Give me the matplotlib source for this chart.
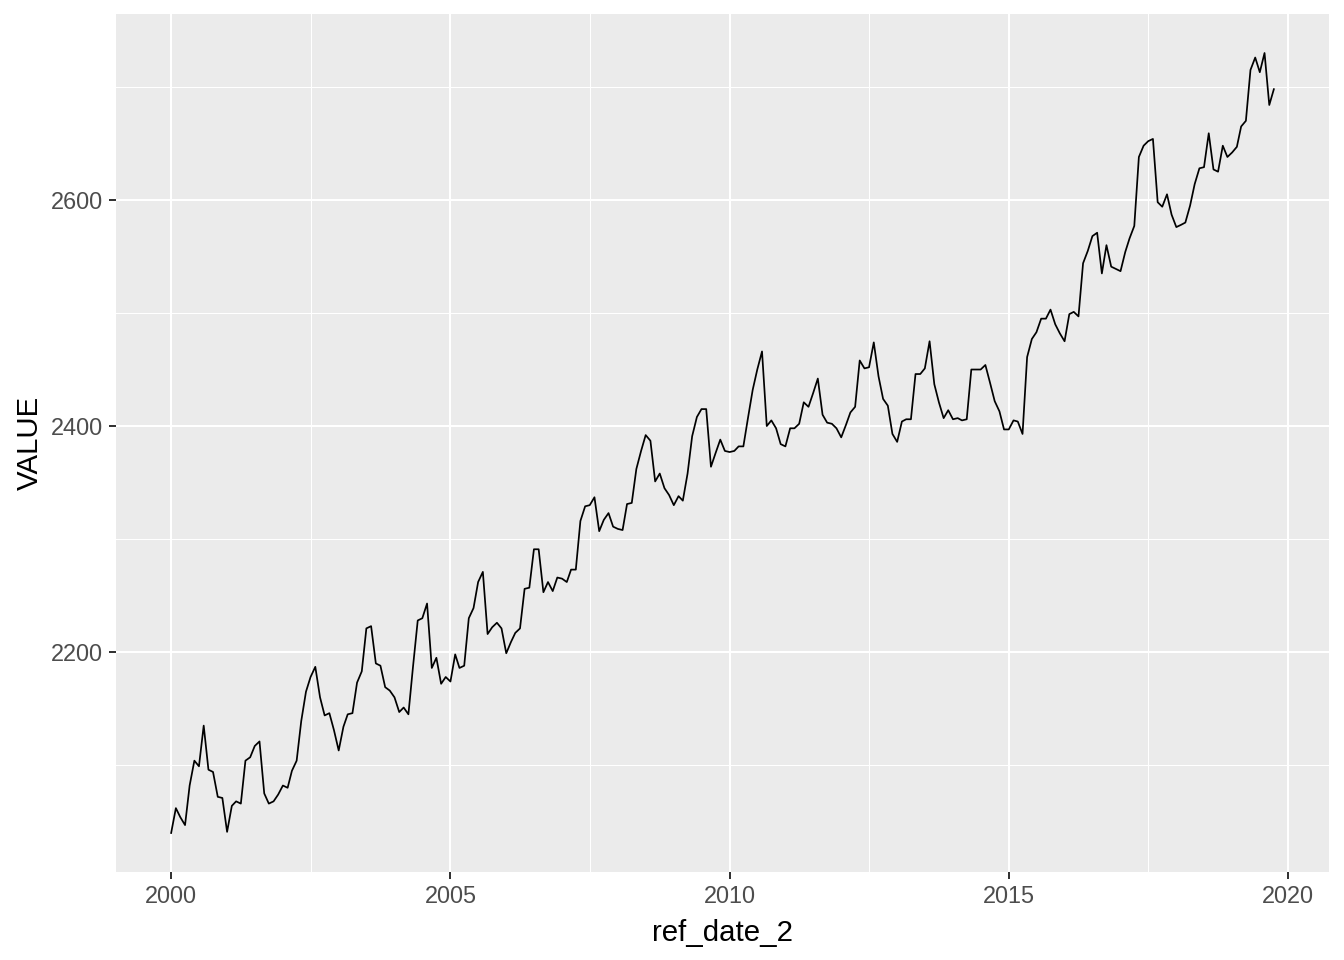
import numpy as np
import pandas as pd
import matplotlib
matplotlib.use("Agg")
import matplotlib.pyplot as plt
import matplotlib.dates as mdates
from matplotlib.ticker import FixedLocator

start_date = "2000-01-01"
values = [
    2040, 2062, 2054, 2047, 2082, 2104, 2099, 2135, 2096, 2094,
    2072, 2071, 2041, 2064, 2068, 2066, 2104, 2107, 2117, 2121,
    2075, 2066, 2068, 2074, 2082, 2080, 2095, 2104, 2139, 2165,
    2178, 2187, 2160, 2144, 2146, 2131, 2113, 2134, 2145, 2146,
    2173, 2183, 2221, 2223, 2190, 2188, 2169, 2166, 2160, 2147,
    2151, 2145, 2187, 2228, 2230, 2243, 2186, 2195,
    2172, 2178, 2174, 2198, 2186, 2188, 2230, 2239, 2262, 2271,
    2216, 2222, 2226, 2221, 2199, 2209, 2217, 2221, 2256, 2257,
    2291, 2291, 2253, 2262, 2254, 2266, 2265,
    2262, 2273, 2273, 2316, 2329, 2330, 2337, 2307, 2317, 2323,
    2311, 2309, 2308, 2331, 2332, 2362, 2378, 2392, 2387, 2351,
    2358, 2345, 2339, 2330, 2338, 2334, 2358, 2391,
    2408, 2415, 2415, 2364, 2376, 2388, 2378, 2377, 2378, 2382,
    2382, 2407, 2432, 2450, 2466, 2400, 2405, 2398, 2384, 2382,
    2398, 2398, 2402, 2421, 2417, 2429, 2442, 2410,
    2403, 2402, 2398, 2390, 2401, 2412, 2417, 2458, 2451, 2452,
    2474, 2444, 2424, 2418, 2393, 2386, 2404, 2406, 2406, 2446,
    2446, 2451, 2475, 2437, 2421, 2407, 2414, 2406,
    2407, 2405, 2406, 2450, 2450, 2450, 2454, 2438, 2422, 2413,
    2397, 2397, 2405, 2404, 2393, 2461, 2477, 2483, 2495, 2495,
    2503, 2490, 2482, 2475, 2499, 2501, 2497, 2544,
    2555, 2568, 2571, 2535, 2560, 2541, 2539, 2537, 2554, 2566,
    2577, 2638, 2648, 2652, 2654, 2598, 2594, 2605, 2587, 2576,
    2578, 2580, 2595, 2614, 2628, 2629, 2659, 2627,
    2625, 2648, 2638, 2642, 2647, 2665, 2670, 2715, 2726, 2713,
    2730, 2684, 2698,
]
dates = pd.date_range(start_date, periods=len(values), freq="MS")
y_major = [2200, 2400, 2600]
y_minor = [2100, 2300, 2500, 2700]
x_label = "ref_date_2"
y_label = "VALUE"

plt.rcParams["font.family"] = ["Liberation Sans", "DejaVu Sans"]

fig = plt.figure(figsize=(7, 5), dpi=192)
ax = fig.add_axes([116/1344, 1-872/960, (1329-116)/1344, (872-14)/960])
ax.set_facecolor("#EBEBEB")

xnum = mdates.date2num(dates)
ax.plot(xnum, values, color="black", lw=0.65, zorder=3)

# limits with 5% expansion
xr = xnum.max() - xnum.min()
ax.set_xlim(xnum.min() - 0.05*xr, xnum.max() + 0.05*xr)
v = np.array(values)
yr = v.max() - v.min()
ax.set_ylim(v.min() - 0.05*yr, v.max() + 0.05*yr)

major_years = [2000, 2005, 2010, 2015, 2020]
xmaj = mdates.date2num(pd.to_datetime([f"{y}-01-01" for y in major_years]))
xmin_pos = (xmaj[:-1] + xmaj[1:]) / 2
ax.xaxis.set_major_locator(FixedLocator(xmaj))
ax.set_xticklabels([str(y) for y in major_years])
ax.xaxis.set_minor_locator(FixedLocator(xmin_pos))
ax.yaxis.set_major_locator(FixedLocator(y_major))
ax.yaxis.set_minor_locator(FixedLocator(y_minor))

ax.grid(which="major", color="white", lw=0.75, zorder=1)
ax.grid(which="minor", color="white", lw=0.4, zorder=1)
ax.set_axisbelow(True)
for s in ax.spines.values():
    s.set_visible(False)

ax.tick_params(which="major", length=2.75, width=0.75, color="#333333",
               labelsize=8.8, labelcolor="#4D4D4D", pad=2.2)
ax.tick_params(which="minor", length=0)

ax.set_xlabel(x_label, fontsize=11, color="black", labelpad=4)
ax.set_ylabel(y_label, fontsize=11, color="black", labelpad=2.5)

fig.savefig("out.png", dpi=192)
